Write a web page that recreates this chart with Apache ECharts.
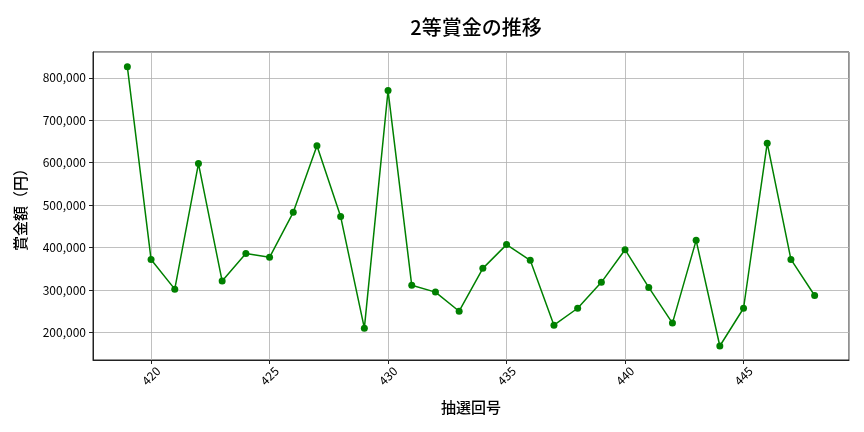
<!DOCTYPE html>
<html>
<head>
<meta charset="utf-8">
<script src="https://cdn.jsdelivr.net/npm/echarts@6/dist/echarts.min.js"></script>
<style>
html,body{margin:0;padding:0;background:#fff;}
#chart{width:864px;height:432px;}
</style>
</head>
<body>
<div id="chart"></div>
<script>
const rounds = [419,420,421,422,423,424,425,426,427,428,429,430,431,432,433,434,435,436,437,438,439,440,441,442,443,444,445,446,447,448];
const prizes = [826000,372000,302000,598000,321000,386000,377000,483000,640000,473000,210000,770000,311000,295000,250000,351000,407000,370000,217000,257000,318000,395000,306000,222000,417000,168000,257000,646000,372000,287000];
const titleText = '2等賞金の推移';
const xName = '抽選回号';
const yName = '賞金額（円）';

const FONT = '"Noto Sans CJK JP", "Noto Sans", sans-serif';
const chart = echarts.init(document.getElementById('chart'));
chart.setOption({
  animation: false,
  backgroundColor: '#fff',
  title: {
    text: titleText, left: 471, top: 12, textAlign: 'center',
    textStyle: {fontFamily: FONT, fontSize: 20, fontWeight: 500, color: '#000'}
  },
  grid: {left: 93, right: 15, top: 52, bottom: 72, show: true, borderColor: '#222', borderWidth: 1},
  xAxis: {
    type: 'value', min: 417.55, max: 449.45, splitNumber: 6,
    name: xName, nameLocation: 'middle', nameGap: 40,
    nameTextStyle: {fontFamily: FONT, fontSize: 15, fontWeight: 500, color: '#000'},
    axisLine: {show: true, onZero: false, lineStyle: {color: '#222', width: 1}},
    axisTick: {show: true, length: 4, lineStyle: {color: '#222'}},
    axisLabel: {rotate: 45, align: 'center', verticalAlign: 'middle', margin: 16,
      showMinLabel: false, showMaxLabel: false,
      fontFamily: FONT, fontSize: 12, color: '#000'},
    splitLine: {show: true, lineStyle: {color: '#b0b0b0', width: 0.8}}
  },
  yAxis: {
    type: 'value', min: 135000, max: 861000, splitNumber: 5,
    name: yName, nameLocation: 'middle', nameGap: 65, nameRotate: 90,
    nameTextStyle: {fontFamily: FONT, fontSize: 15, fontWeight: 500, color: '#000'},
    axisLine: {show: true, lineStyle: {color: '#222', width: 1}},
    axisTick: {show: true, length: 4, lineStyle: {color: '#222'}},
    axisLabel: {showMinLabel: false, showMaxLabel: false, margin: 7,
      fontFamily: FONT, fontSize: 12, color: '#000',
      formatter: v => v.toLocaleString('en-US')},
    splitLine: {show: true, lineStyle: {color: '#b0b0b0', width: 0.8}}
  },
  series: [{
    type: 'line',
    data: rounds.map((r, i) => [r, prizes[i]]),
    symbol: 'circle', symbolSize: 7,
    lineStyle: {color: '#008000', width: 1.5},
    itemStyle: {color: '#008000'}
  }]
});
</script>
</body>
</html>
